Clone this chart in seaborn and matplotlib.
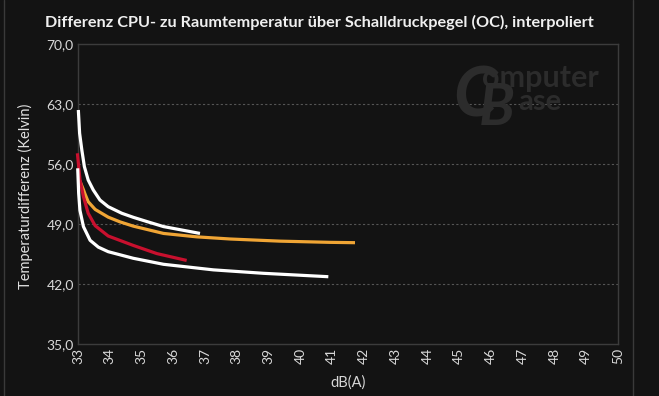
import pandas as pd
import matplotlib.pyplot as plt
import matplotlib.lines as mlines
import seaborn as sns

# values (dB(A) -> Kelvin)
white_top_db = [33.01, 33.05, 33.12, 33.2, 33.32, 33.48, 33.69, 33.95, 34.38, 34.74, 35.2, 35.69, 36.84]
white_top_k = [62.3, 59.58, 57.63, 55.69, 54.13, 52.97, 51.8, 51.02, 50.25, 49.78, 49.25, 48.7, 47.9]

orange_db = [33.06, 33.17, 33.22, 33.32, 33.54, 33.95, 34.32, 34.74, 35.69, 36.74, 37.79, 39.36, 40.93, 41.72]
orange_k = [54.0, 53.0, 52.5, 51.6, 50.7, 49.8, 49.25, 48.75, 47.9, 47.5, 47.25, 47.0, 46.86, 46.82]

red_db = [32.98, 33.06, 33.17, 33.32, 33.54, 33.95, 34.74, 35.48, 36.42]
red_k = [57.25, 54.2, 52.2, 50.25, 48.8, 47.6, 46.5, 45.55, 44.75]

white_low_db = [32.99, 33.02, 33.06, 33.17, 33.38, 33.64, 33.95, 34.74, 35.69, 37.26, 38.83, 40.88]
white_low_k = [55.5, 52.6, 50.6, 48.7, 47.1, 46.3, 45.77, 45.0, 44.3, 43.65, 43.25, 42.85]

series = [
    ("Kühler 1", white_top_db, white_top_k, "#ffffff"),
    ("Kühler 2", orange_db, orange_k, "#f0a535"),
    ("Kühler 3", red_db, red_k, "#c8102e"),
    ("Kühler 4", white_low_db, white_low_k, "#ffffff"),
]

x_ticks = list(range(33, 51))
y_ticks = [35, 42, 49, 56, 63, 70]

bg = "#131313"
sns.set_style("dark")
plt.rcParams["font.family"] = ["Lato", "DejaVu Sans"]

fig = plt.figure(figsize=(6.59, 3.96), dpi=100, facecolor=bg)
ax = fig.add_axes([0.1184, 0.1313, 0.8194, 0.7576])
ax.set_facecolor(bg)

for name, xs, ys, col in series:
    df = pd.DataFrame({"dB": xs, "K": ys})
    sns.lineplot(data=df, x="dB", y="K", ax=ax, color=col, linewidth=2.3,
                 sort=False, estimator=None, solid_capstyle="butt",
                 solid_joinstyle="round", zorder=3, clip_on=False)

ax.set_xlim(33, 50)
ax.set_ylim(35, 70)
ax.set_xticks(x_ticks)
ax.set_xticklabels([str(t) for t in x_ticks], rotation=90)
ax.set_yticks(y_ticks)
ax.set_yticklabels([f"{t:.1f}".replace(".", ",") for t in y_ticks])
ax.tick_params(colors="#d8d8d8", labelsize=10, length=0, pad=3)
ax.grid(False)
for t in y_ticks[1:-1]:
    ax.axhline(t, color="#555555", linestyle=(0, (2, 2)), linewidth=0.8, zorder=0)
for s in ax.spines.values():
    s.set_visible(True)
    s.set_color("#3c3c3c")
    s.set_linewidth(1)
ax.set_ylabel("")
ax.set_xlabel("dB(A)", color="#d8d8d8", fontsize=10.5, labelpad=8)

fig.text(0.038, 0.503, "Temperaturdifferenz (Kelvin)", rotation=90, color="#e0e0e0",
         fontsize=10.5, ha="center", va="center")
fig.text(0.068, 0.944, "Differenz CPU- zu Raumtemperatur über Schalldruckpegel (OC), interpoliert",
         color="#f0f0f0", fontsize=11.7, fontweight="bold", ha="left", va="center")

# watermark
wm = "#2c2c2c"
fig.text(0.688, 0.705, "C", color=wm, fontsize=50, fontweight="bold", fontstyle="italic",
         ha="left", va="baseline", zorder=0)
fig.text(0.731, 0.780, "omputer", color=wm, fontsize=22, fontweight="bold",
         ha="left", va="baseline", zorder=0)
fig.text(0.726, 0.684, "B", color=wm, fontsize=42, fontweight="bold", fontstyle="italic",
         ha="left", va="baseline", zorder=0)
fig.text(0.786, 0.722, "ase", color=wm, fontsize=21, fontweight="bold",
         ha="left", va="baseline", zorder=0)

for xf in [0.006, 0.961]:
    fig.add_artist(mlines.Line2D([xf, xf], [0, 1], color="#3a3a3a", linewidth=1))

fig.savefig("out.png", dpi=100, facecolor=bg)
